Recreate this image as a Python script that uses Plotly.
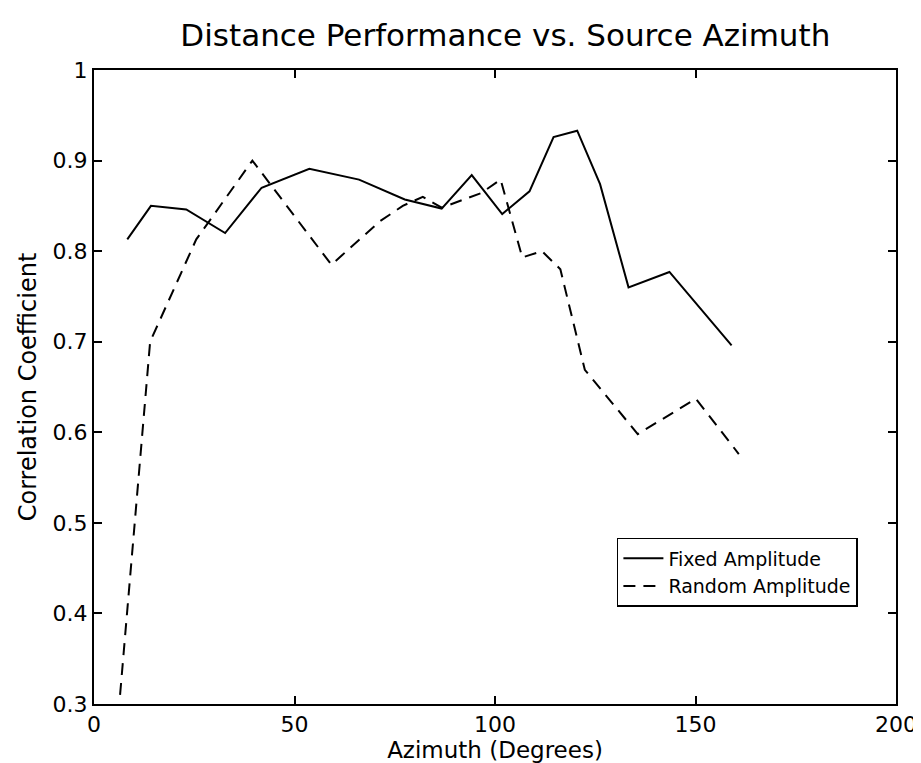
import plotly.graph_objects as go

# Fixed Amplitude (solid)
fixed_az = [8.3, 14.2, 23.0, 32.7, 41.8, 53.7, 66.1, 77.5, 86.7, 94.2, 101.8, 108.6, 114.6, 120.5, 126.2, 133.3, 143.5, 159.0]
fixed_r = [0.813, 0.850, 0.846, 0.820, 0.870, 0.891, 0.879, 0.857, 0.847, 0.884, 0.841, 0.866, 0.926, 0.933, 0.874, 0.760, 0.777, 0.696]

# Random Amplitude (dashed)
rand_az = [6.5, 14.0, 25.5, 32.0, 39.5, 59.2, 71.3, 77.0, 82.0, 86.7, 96.5, 101.4, 106.8, 111.7, 116.3, 122.4, 135.6, 150.1, 160.8]
rand_r = [0.310, 0.700, 0.813, 0.854, 0.900, 0.785, 0.833, 0.850, 0.860, 0.848, 0.864, 0.879, 0.793, 0.800, 0.780, 0.669, 0.598, 0.637, 0.576]

x_ticks = [0, 50, 100, 150, 200]
y_ticks = [0.3, 0.4, 0.5, 0.6, 0.7, 0.8, 0.9, 1.0]
y_tick_labels = ["0.3", "0.4", "0.5", "0.6", "0.7", "0.8", "0.9", "1"]

FONT = "DejaVu Sans, Liberation Sans, Arial, sans-serif"

fig = go.Figure()
fig.add_trace(go.Scatter(x=fixed_az, y=fixed_r, mode="lines", name="Fixed Amplitude",
                         line=dict(color="black", width=2)))
fig.add_trace(go.Scatter(x=rand_az, y=rand_r, mode="lines", name="Random Amplitude",
                         line=dict(color="black", width=2, dash="12px,8px")))

axis_common = dict(showline=True, linecolor="black", linewidth=2, mirror="allticks",
                   ticks="inside", ticklen=8, tickwidth=1.5, tickcolor="black",
                   showgrid=False, zeroline=False,
                   tickfont=dict(family=FONT, size=22, color="black"))

fig.update_layout(
    width=921, height=763,
    margin=dict(l=86, r=26, t=62, b=67),
    paper_bgcolor="white", plot_bgcolor="white",
    title=dict(text="Distance Performance vs. Source Azimuth", x=0.54, xanchor="center",
               y=0.964, yanchor="middle",
               font=dict(family=FONT, size=31, color="black")),
    xaxis=dict(range=[0, 200], tickvals=x_ticks, ticktext=[str(v) for v in x_ticks],
               title=dict(text="Azimuth (Degrees)", standoff=3,
                          font=dict(family=FONT, size=23, color="black")),
               **axis_common),
    yaxis=dict(range=[0.3, 1.0], tickvals=y_ticks, ticktext=y_tick_labels,
               title=dict(text="Correlation Coefficient", standoff=9,
                          font=dict(family=FONT, size=24, color="black")),
               **axis_common),
    legend=dict(x=0.652, y=0.262, xanchor="left", yanchor="top",
                bgcolor="white", bordercolor="black", borderwidth=1.5,
                font=dict(family=FONT, size=19, color="black"),
                itemwidth=40, tracegroupgap=0),
    showlegend=True,
)

fig.write_html("out.html")
